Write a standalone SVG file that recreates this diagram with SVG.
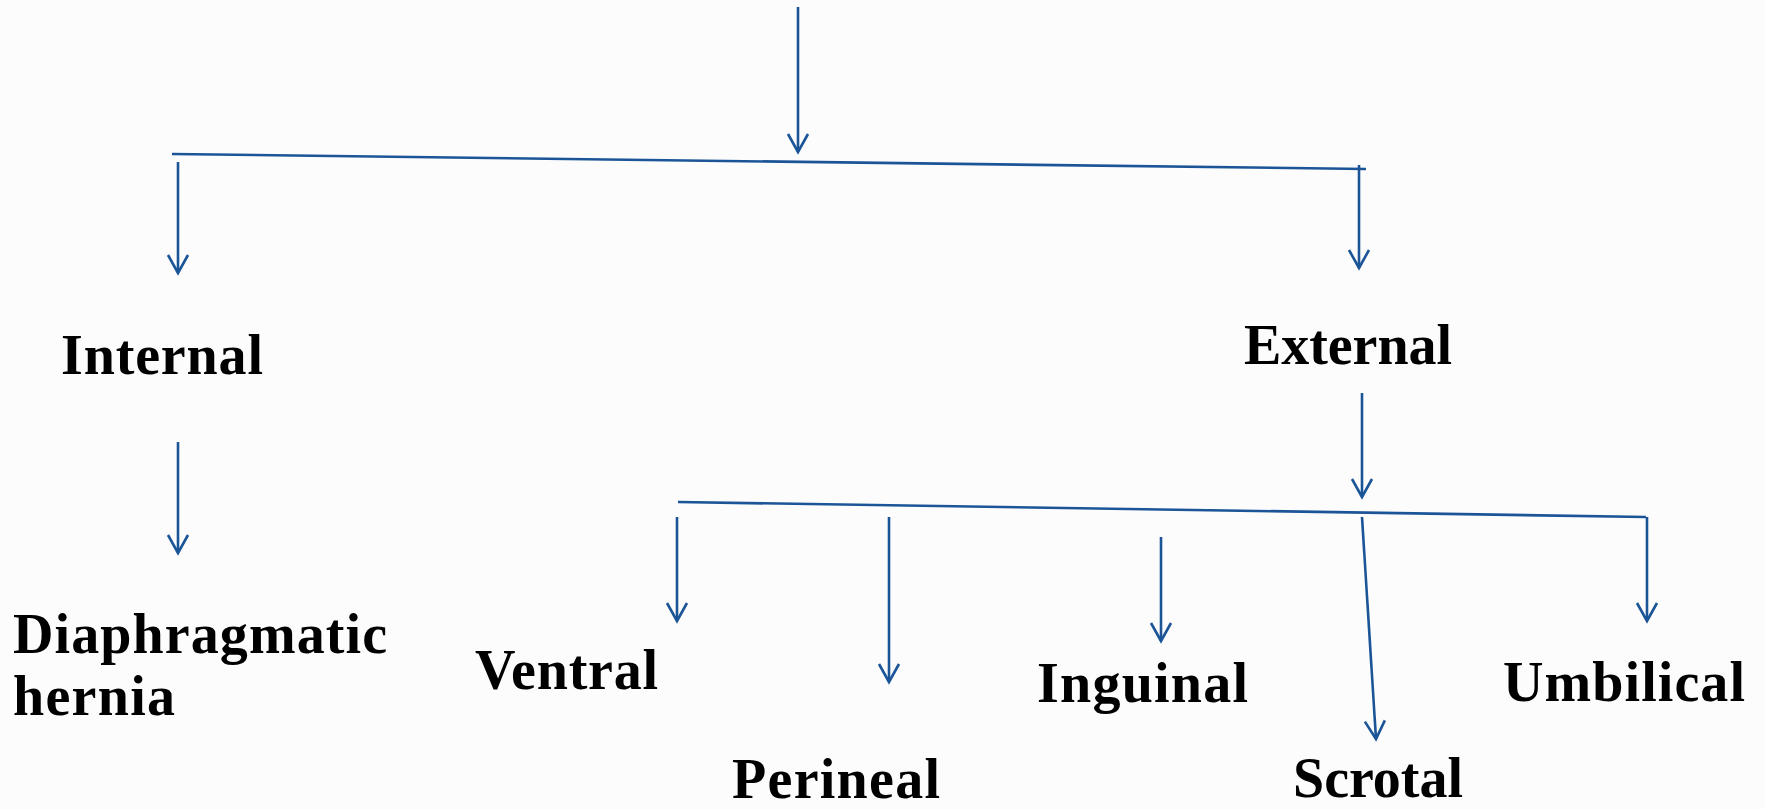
<svg xmlns="http://www.w3.org/2000/svg" width="1765" height="809" viewBox="0 0 1765 809">
<style>
.lbl{font-family:"Liberation Serif","Times New Roman",serif;font-weight:bold;font-size:56px;fill:#000}
.ln{stroke:#1b5598;stroke-width:2.6;fill:none;stroke-linecap:butt}
.ah{stroke:#1b5598;stroke-width:2.6;fill:none;stroke-linejoin:miter}
</style>
<defs>
<marker id="arr" viewBox="-22 -14 26 28" refX="0" refY="0" markerWidth="26" markerHeight="28" markerUnits="userSpaceOnUse" orient="auto">
<path d="M-18,-10 L0,0 L-18,10" class="ah"/>
</marker>
</defs>
<rect x="0" y="0" width="1765" height="809" fill="#fcfcfc"/>
<g id="connectors">
<line class="ln" x1="798" y1="7" x2="798" y2="152" marker-end="url(#arr)"/>
<line class="ln" x1="172" y1="154" x2="1366" y2="169"/>
<line class="ln" x1="178" y1="162" x2="178" y2="273" marker-end="url(#arr)"/>
<line class="ln" x1="1359" y1="165" x2="1359" y2="268" marker-end="url(#arr)"/>
<line class="ln" x1="178" y1="442" x2="178" y2="553" marker-end="url(#arr)"/>
<line class="ln" x1="1362" y1="393" x2="1362" y2="497" marker-end="url(#arr)"/>
<line class="ln" x1="678" y1="502" x2="1646" y2="517"/>
<line class="ln" x1="677" y1="517" x2="677" y2="621" marker-end="url(#arr)"/>
<line class="ln" x1="889" y1="517" x2="889" y2="682" marker-end="url(#arr)"/>
<line class="ln" x1="1161" y1="537" x2="1161" y2="641" marker-end="url(#arr)"/>
<line class="ln" x1="1362" y1="517" x2="1376" y2="739" marker-end="url(#arr)"/>
<line class="ln" x1="1647" y1="517" x2="1647" y2="621" marker-end="url(#arr)"/>
</g>
<g id="internal"><text class="lbl" x="61" y="374" textLength="202">Internal</text></g>
<g id="external"><text class="lbl" x="1244" y="364" textLength="208">External</text></g>
<g id="diaphragmatic"><text class="lbl" x="13" y="653" textLength="374">Diaphragmatic</text><text class="lbl" x="13" y="715" textLength="162">hernia</text></g>
<g id="ventral"><text class="lbl" x="475" y="689" textLength="183">Ventral</text></g>
<g id="perineal"><text class="lbl" x="732" y="798" textLength="208">Perineal</text></g>
<g id="inguinal"><text class="lbl" x="1037" y="702" textLength="211">Inguinal</text></g>
<g id="scrotal"><text class="lbl" x="1293" y="797" textLength="170">Scrotal</text></g>
<g id="umbilical"><text class="lbl" x="1503" y="701" textLength="242">Umbilical</text></g>
</svg>
